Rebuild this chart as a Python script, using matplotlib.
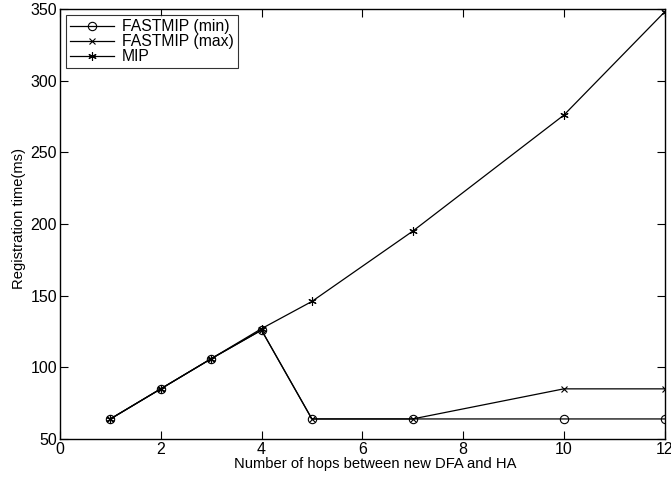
import matplotlib
matplotlib.use('Agg')
import matplotlib.pyplot as plt

hops = [1, 2, 3, 4, 5, 7, 10, 12]
fastmip_min = [64, 85, 106, 126, 64, 64, 64, 64]
fastmip_max = [64, 85, 106, 126, 64, 64, 85, 85]
mip = [64, 85, 106, 127, 146, 195, 276, 348]

plt.rcParams['font.family'] = ['Liberation Sans', 'DejaVu Sans']
plt.rcParams['font.size'] = 10.6

fig = plt.figure(figsize=(6.71, 4.8), dpi=100)
ax = fig.add_axes([0.0894, 0.0854, 0.901, 0.8956])

ax.plot(hops, fastmip_min, color='black', lw=0.9, marker='o', ms=6,
        mfc='none', mec='black', mew=0.8, label='FASTMIP (min)')
ax.plot(hops, fastmip_max, color='black', lw=0.9, marker='x', ms=5,
        mew=0.8, label='FASTMIP (max)')
ax.plot(hops, mip, color='black', lw=0.9, marker=(6, 2, 0), ms=6,
        mew=0.8, label='MIP')

ax.set_xlim(0, 12)
ax.set_ylim(50, 350)
ax.set_xticks(range(0, 13, 2))
ax.set_yticks(range(50, 351, 50))
ax.tick_params(direction='in', top=True, right=True, length=6, width=0.8,
               pad=2, labelsize=11.5)
for s in ax.spines.values():
    s.set_linewidth(1.0)

ax.set_xlabel('Number of hops between new DFA and HA')
ax.set_ylabel('Registration time(ms)')
ax.xaxis.set_label_coords(0.521, -0.043)
ax.yaxis.set_label_coords(-0.056, 0.512)

leg = ax.legend(loc='upper left', frameon=True, fancybox=False, edgecolor='black',
                borderpad=0.25, labelspacing=0.0, handlelength=2.8,
                handletextpad=0.5, borderaxespad=0.4, fontsize=11.3)
leg.get_frame().set_linewidth(0.8)

fig.savefig('out.png', dpi=100)
